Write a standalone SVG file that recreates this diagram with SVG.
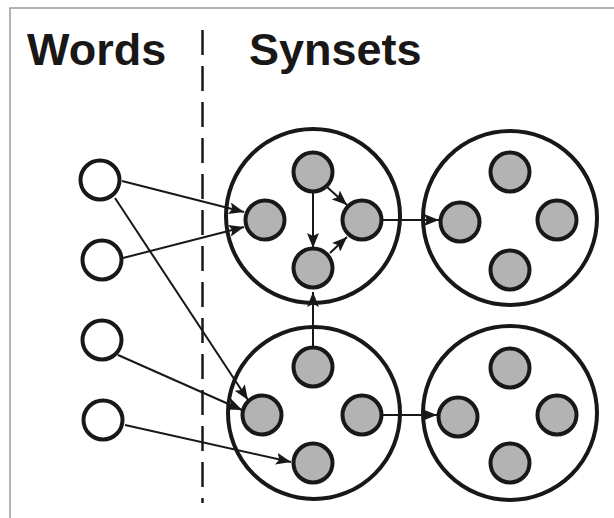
<svg xmlns="http://www.w3.org/2000/svg" width="614" height="518" viewBox="0 0 614 518">
  <style>
    .title { font-family: "Liberation Sans", Arial, sans-serif; font-weight: bold; font-size: 45px; fill: #1a1717; }
    .word { fill: #ffffff; stroke: #1a1717; stroke-width: 4; }
    .syn { fill: #ffffff; stroke: #1a1717; stroke-width: 4; }
    .sense { fill: #b3b3b3; stroke: #1a1717; stroke-width: 4; }
    .edge { stroke: #1a1717; stroke-width: 2; fill: none; marker-end: url(#arrow); }
    .frame { stroke: #9a9a9a; stroke-width: 1.5; fill: none; }
  </style>
  <defs>
    <marker id="arrow" markerUnits="userSpaceOnUse" markerWidth="16" markerHeight="12" viewBox="0 0 16 12" refX="15" refY="6" orient="auto">
      <path d="M0,0 L15,6 L0,12 L3,6 Z" fill="#1a1717"/>
    </marker>
  </defs>

  <rect width="614" height="518" fill="#ffffff"/>
  <path class="frame" d="M10,518 V8 H614"/>

  <!-- column headings and separator -->
  <text class="title" x="27" y="65">Words</text>
  <text class="title" x="249" y="65">Synsets</text>
  <line x1="202.5" y1="30" x2="202.5" y2="503" stroke="#1a1717" stroke-width="2.5" stroke-dasharray="25 11"/>

  <!-- words -->
  <g id="word1"><circle class="word" cx="100" cy="180" r="19.5"/></g>
  <g id="word2"><circle class="word" cx="102" cy="260" r="19.5"/></g>
  <g id="word3"><circle class="word" cx="102" cy="340" r="19.5"/></g>
  <g id="word4"><circle class="word" cx="103" cy="420" r="19.5"/></g>

  <!-- synsets with their senses -->
  <g id="synset-a">
    <circle class="syn" cx="313" cy="216" r="87"/>
    <circle class="sense" cx="313" cy="172" r="19.5"/>
    <circle class="sense" cx="265" cy="220" r="19.5"/>
    <circle class="sense" cx="362" cy="220" r="19.5"/>
    <circle class="sense" cx="313" cy="268" r="19.5"/>
  </g>
  <g id="synset-b">
    <circle class="syn" cx="510" cy="218" r="87"/>
    <circle class="sense" cx="510" cy="172" r="19.5"/>
    <circle class="sense" cx="460" cy="222" r="19.5"/>
    <circle class="sense" cx="557" cy="220" r="19.5"/>
    <circle class="sense" cx="510" cy="270" r="19.5"/>
  </g>
  <g id="synset-c">
    <circle class="syn" cx="314" cy="413" r="86"/>
    <circle class="sense" cx="313" cy="367" r="19.5"/>
    <circle class="sense" cx="262" cy="415" r="19.5"/>
    <circle class="sense" cx="362" cy="415" r="19.5"/>
    <circle class="sense" cx="313" cy="463" r="19.5"/>
  </g>
  <g id="synset-d">
    <circle class="syn" cx="510" cy="413" r="87"/>
    <circle class="sense" cx="510" cy="368" r="19.5"/>
    <circle class="sense" cx="458" cy="417" r="19.5"/>
    <circle class="sense" cx="557" cy="415" r="19.5"/>
    <circle class="sense" cx="510" cy="463" r="19.5"/>
  </g>

  <!-- connectors -->
  <g id="connectors">
    <line class="edge" x1="122" y1="181" x2="244" y2="212"/>
    <line class="edge" x1="123" y1="258" x2="244" y2="227"/>
    <line class="edge" x1="115" y1="198" x2="248" y2="400"/>
    <line class="edge" x1="118" y1="355" x2="242" y2="410"/>
    <line class="edge" x1="125" y1="425" x2="291" y2="462"/>
    <line class="edge" x1="313" y1="192" x2="313" y2="248"/>
    <line class="edge" x1="327" y1="187" x2="347" y2="205"/>
    <line class="edge" x1="330" y1="253" x2="347" y2="237"/>
    <line class="edge" x1="382" y1="220" x2="439" y2="220"/>
    <line class="edge" x1="382" y1="415" x2="437" y2="415"/>
    <line class="edge" x1="313" y1="347" x2="313" y2="292"/>
  </g>
</svg>
